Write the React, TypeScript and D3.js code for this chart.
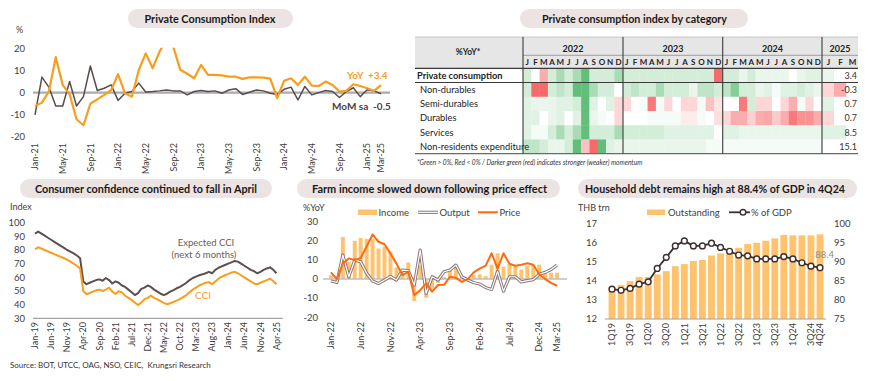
import React from "react";
import * as d3 from "d3";

const FONT = "Lato, 'Open Sans', sans-serif";
const TXT = "#404040";

// ---------- Panel 1: Private Consumption Index ----------
const pciLabels = ["Jan-21","May-21","Sep-21","Jan-22","May-22","Sep-22","Jan-23","May-23","Sep-23","Jan-24","May-24","Sep-24","Jan-25","Mar-25"];
const pciLabelIdx = [0,4,8,12,16,20,24,28,32,36,40,44,48,50];
const pciTicks = [20,10,0,-10,-20];
const pciYoY = [-6,-4.5,0.5,16,3.5,-0.7,-12,-14.7,-5,-3,-1,1.2,8.3,-0.3,-1.8,10.2,17.7,11,18.5,24,20.5,10.3,8.5,6.5,12.5,8,8,7.8,7.2,7.2,6.2,6.9,6.9,6.8,6.3,-2.5,5.4,6.5,3.5,7.2,3.2,3.0,5.0,3.5,0.5,0.8,3.8,3.0,2.0,0.8,3.4];
const pciMoM = [-10,7,2.5,-6,-6,5,-6,-1.8,12,1,2,3.5,-3.5,-0.3,0.5,4.3,0.3,0.5,0.8,1.2,0.8,0.8,-1.0,0.5,1.0,0.5,0.8,-0.3,1.2,1.8,-0.8,0.2,1.2,0.8,-0.3,-0.8,1.5,2.5,-3.3,2.8,-1.0,0.0,1.0,0.5,-2.2,0.5,2.2,-1.8,1.3,0.8,-0.5];

// ---------- Panel 2: heatmap ----------
const heatRowNames = ["Private consumption","Non-durables","Semi-durables","Durables","Services","Non-residents expenditure"];
const heatYears = ["2022","2023","2024","2025"];
const monthLetters = ["J","F","M","A","M","J","J","A","S","O","N","D"];
const monthLetters2025 = ["J","F","M"];
const heatPC = [2,0,-2,2,3,2,3,4,2,2,2,3, 2,2,2,2,2,2,2,2,2,2,2,-4, 2,2,1,2,1,1,1,1,0,1,1.5,1.5, 1,0];
const heatND = [2,-4,-4,2,2.5,2,4,4,3,2,2,0, 2,2.5,2,2,3,2,2,2,1,2.5,2.5,2, 2.5,3.5,2,2,1,1.5,0.5,1.5,1.5,2,1.5,1, -1,-2];
const heatSD = [1.5,1,1,1,1.5,1.5,2,4,1.5,0,1.5,-1, -1,0,0.5,-3.5,0.5,-1,0,-1,-1,0.5,-1.5,-0.7, 0,0,-3.5,2,-1,-1,0,-1,-2,0.5,-1,0, 1.5,0];
const heatDU = [1.5,1.5,0,1,1.5,0,1.5,4,1,0.5,0,-1, 0,0,0,0.5,0.5,0.5,0.5,-0.5,-0.5,0.5,0,-0.8, -1,-2,-2,-1.2,-2,-2.2,-1.3,-2,-3.5,-2.8,-2.8,-2, -1,0];
const heatSV = [1.5,0.5,0.5,2,3,2,3,4,2,2,2,3, 2,2,2,2,2,1.5,1.5,1.5,1.5,1.5,1.5,0, 1.5,1.5,1,1,1,1,1,1,1,1,1,1, 1.5,1.5];
const heatNR = [2.5,2.5,2,1,1,2,4,-1.5,-4,4,1.5,1, 1,1,1,1,1,1,1,1,1,1,0.5,0.5, 0.5,0.5,0.5,0.5,0.5,0.5,0.5,0.5,0.5,0.5,0.5,0.5, 0,0];
const heatLatest = ["3.4","-0.3","0.7","0.7","8.5","15.1"];

// ---------- Panel 3: consumer confidence ----------
const cciLabels = ["Jan-19","Jun-19","Nov-19","Apr-20","Sep-20","Feb-21","Jul-21","Dec-21","May-22","Oct-22","Mar-23","Aug-23","Jan-24","Jun-24","Nov-24","Apr-25"];
const cciTicks = [100,90,80,70,60,50,40,30];
const cciExpected = [92,93.5,92,90.5,89,87.5,86,84.5,83,81.5,80,78.8,77.5,76,74,57,55,56,57,58,58.5,57.5,59.5,58,55.5,57,56,54,53,51,49,47,48.5,51.5,52.5,54,53,51,49.5,48,47,48,49.5,50.7,52,53,54.4,56,58,59.5,60.5,61.5,62.2,63,64,63,65.5,67,68,69,70,71,72,71.5,70,68.5,67,65.5,64.5,63,64,65.4,66.5,67.3,65.5,63];
const cciIndex = [80.7,82,81,80,79,78,77,76,75,74,73,71.5,70,68.5,66.5,50,47.6,48.5,49.5,50.5,51,50,51,52.4,49.5,47.8,49.8,49,46.5,45,43.5,41.5,39.7,41.5,44,45,46.6,45,43.8,42.5,41.3,40.3,41,42,43,44,45.5,47,49,51,52.5,54,55,56,56.5,55,57,59,60.5,61.5,62.5,63.5,64,63,61.5,60,58.5,57,55.5,55,56,57,58,59,57.2,55];

// ---------- Panel 4: farm income ----------
const farmLabels = ["Jan-22","Jun-22","Nov-22","Apr-23","Sep-23","Feb-24","Jul-24","Dec-24","Mar-25"];
const farmLabelIdx = [0,5,10,15,20,25,30,35,38];
const farmTicks = [30,20,10,0,-10,-20];
const farmIncome = [2,1,22,9,20,21.5,21,21,16,17,14.5,6,5,8.7,-11.5,7,-9.8,-5,-2,1,5,7,1,-1,2,2.5,1.5,7.5,13.5,6.5,8,7,5,7,7.5,7.5,3,3.3,3.3];
const farmOutput = [-1,-1.8,12.6,1.2,10,9,3,-1,-2.3,-0.5,1.4,-0.5,4.7,4.4,-3.1,15.2,-7.5,1.2,-0.5,3.8,4.7,7.3,1.2,-0.5,-1.9,-2.6,-4.4,-5.5,4,-6.3,1.2,1.2,-1.5,-0.8,-0.3,2.5,3.5,5,7.4];
const farmPrice = [3.5,0,8.2,10.8,9.9,11,17,23.4,19.5,18.2,13.4,8.2,2.1,3.8,-8.4,-5.8,-2.3,-6.6,-3.1,-3,1.2,0.7,-1.5,0,3.5,5.5,7,13.5,5.5,13.5,8,7,7.5,8.3,7.5,2.5,0,-2,-3.5];

// ---------- Panel 5: household debt ----------
const debtQuarters = ["1Q19","2Q19","3Q19","4Q19","1Q20","2Q20","3Q20","4Q20","1Q21","2Q21","3Q21","4Q21","1Q22","2Q22","3Q22","4Q22","1Q23","2Q23","3Q23","4Q23","1Q24","2Q24","3Q24","4Q24"];
const debtShownIdx = [0,2,4,6,8,10,12,14,16,18,20,22,23];
const debtLeftTicks = [17,16,15,14,13,12];
const debtRightTicks = [100,95,90,85,80,75];
const debtOutstanding = [13.65,13.77,13.98,14.2,14.2,14.33,14.5,14.76,14.87,15.03,15.08,15.32,15.43,15.52,15.72,15.92,15.98,16.09,16.21,16.39,16.37,16.37,16.37,16.42];
const debtGdp = [82.8,82.5,83,84.1,84.7,88.2,91.1,94.1,95.4,94.1,94.1,94.8,93.7,92.7,91.7,91.5,90.7,90.7,90.7,91.3,90.7,89.7,88.8,88.4];

function Pill({ x, y, w, h, cx, tl, text }: any) {
  return (
    <g>
      <rect x={x} y={y} width={w} height={h} rx={h / 2} fill="#EBE4E2" />
      <text x={cx} y={y + h / 2 + 4} textAnchor="middle" fontSize={11.5} fontWeight={700} fill="#1A1A1A" textLength={tl} lengthAdjust="spacingAndGlyphs">{text}</text>
    </g>
  );
}

function RotLabel({ x, y, text, size = 9 }: any) {
  return <text transform={`translate(${x},${y}) rotate(-90)`} textAnchor="end" dy="0.35em" fontSize={size} fill={TXT}>{text}</text>;
}

function PciPanel() {
  const x = d3.scaleLinear().domain([0, pciYoY.length - 1]).range([35, 381]);
  const y = d3.scaleLinear().domain([-20, 20]).range([137, 48.3]);
  const line = d3.line<number>().x((_, i) => x(i)).y((d) => y(d));
  return (
    <g>
      <defs>
        <clipPath id="pciClip"><rect x={0} y={y(20) - 0.6} width={420} height={160} /></clipPath>
      </defs>
      <Pill x={128} y={9} w={165} h={19} cx={210} tl={131} text="Private Consumption Index" />
      <text x={16} y={33} fontSize={9} fill={TXT}>%</text>
      {pciTicks.map((t) => (
        <text key={t} x={25} y={y(t) + 3.2} textAnchor="end" fontSize={9.5} fill={TXT}>{t}</text>
      ))}
      <line x1={33} x2={390} y1={y(0)} y2={y(0)} stroke="#ABABAB" strokeWidth={2.2} />
      <path d={line(pciMoM) || ""} fill="none" stroke="#5B4B4B" strokeWidth={1.5} strokeLinejoin="round" />
      <path d={line(pciYoY) || ""} fill="none" stroke="#F99D1C" strokeWidth={2.2} strokeLinejoin="round" clipPath="url(#pciClip)" />
      {pciLabelIdx.map((idx, k) => (
        <RotLabel key={k} x={x(idx)} y={143} text={pciLabels[k]} />
      ))}
      <text x={347} y={79} fontSize={10} fontWeight={700} fill="#F99D1C" style={{ whiteSpace: "pre" }}>{"YoY  +3.4"}</text>
      <text x={332} y={110} fontSize={10} fontWeight={700} fill="#4D4040" style={{ whiteSpace: "pre" }}>{"MoM sa  -0.5"}</text>
    </g>
  );
}

const heatColor = d3
  .scaleLinear<string>()
  .domain([-4, -3, -2, -1, 0, 1, 2, 3, 4])
  .range(["#F8696B", "#F98B8C", "#FBADAE", "#FDD7D7", "#FFFFFF", "#EAF6EC", "#D3EDD9", "#A9DCB5", "#63BE7B"])
  .clamp(true);

function HeatPanel() {
  const rows = [heatPC, heatND, heatSD, heatDU, heatSV, heatNR];
  const xm = d3.scaleBand<number>().domain(d3.range(36)).range([523, 822]);
  const x25 = d3.scaleBand<number>().domain([0, 1, 2]).range([822, 858]);
  const yr = d3.scaleBand<number>().domain(d3.range(6)).range([68.3, 153.7]);
  const colX = (j: number) => (j < 36 ? (xm(j) as number) : (x25(j - 36) as number));
  const colW = (j: number) => (j < 36 ? xm.bandwidth() : x25.bandwidth());
  const yearCenters = [573, 673, 772.5, 840];
  const dark = "#3A3A3A";
  return (
    <g>
      <Pill x={520} y={9} w={228} h={19} cx={634.5} tl={185} text="Private consumption index by category" />
      <rect x={415} y={37} width={443} height={31.3} fill="#E7E6E6" />
      {rows.map((vals, r) =>
        vals.map((v, j) => (
          <rect key={`${r}-${j}`} x={colX(j)} y={yr(r)} width={colW(j) + 0.3} height={yr.bandwidth() + 0.3} fill={heatColor(v)} />
        ))
      )}
      <text x={468} y={55} textAnchor="middle" fontSize={8.5} fontWeight={700} fill="#222">%YoY*</text>
      {heatYears.map((yv, k) => (
        <text key={yv} x={yearCenters[k]} y={52} textAnchor="middle" fontSize={9} fontWeight={700} fill="#222">{yv}</text>
      ))}
      {d3.range(36).map((j) => (
        <text key={j} x={(xm(j) as number) + xm.bandwidth() / 2} y={65.2} textAnchor="middle" fontSize={8} fontWeight={700} fill="#222">{monthLetters[j % 12]}</text>
      ))}
      {monthLetters2025.map((m, j) => (
        <text key={"m" + j} x={(x25(j) as number) + x25.bandwidth() / 2 + 0.5} y={65.2} textAnchor="middle" fontSize={8} fontWeight={700} fill="#222">{m}</text>
      ))}
      {heatRowNames.map((n, r) => (
        <text key={n} x={r === 0 ? 417 : 420} y={(yr(r) as number) + yr.bandwidth() / 2 + 3.3} fontSize={9.3} fontWeight={r === 0 ? 700 : 400} fill="#222">{n}</text>
      ))}
      {heatLatest.map((v, r) => (
        <text key={r} x={857} y={(yr(r) as number) + yr.bandwidth() / 2 + 3.2} textAnchor="end" fontSize={9} fill="#333">{v}</text>
      ))}
      <line x1={415} x2={858} y1={37} y2={37} stroke="#BDBDBD" strokeWidth={0.8} />
      <line x1={523} x2={858} y1={55.3} y2={55.3} stroke="#8A8A8A" strokeWidth={0.8} />
      <line x1={415} x2={858} y1={68.3} y2={68.3} stroke={dark} strokeWidth={1.2} />
      <line x1={415} x2={858} y1={82.5} y2={82.5} stroke={dark} strokeWidth={1.2} />
      <line x1={415} x2={858} y1={153.7} y2={153.7} stroke="#6A6A6A" strokeWidth={1.2} />
      {[523, 623, 722.7, 822].map((vx) => (
        <line key={vx} x1={vx} x2={vx} y1={37} y2={153.7} stroke={dark} strokeWidth={1.1} />
      ))}
      <text x={417} y={165} fontSize={6.6} fontStyle="italic" fill="#333">*Green &gt; 0%, Red &lt; 0% / Darker green (red) indicates stronger (weaker) momentum</text>
    </g>
  );
}

function CciPanel() {
  const x = d3.scaleLinear().domain([0, cciIndex.length - 1]).range([35, 276.5]);
  const y = d3.scaleLinear().domain([30, 100]).range([318.3, 222.7]);
  const line = d3.line<number>().x((_, i) => x(i)).y((d) => y(d));
  return (
    <g>
      <Pill x={20} y={179} w={252} h={19} cx={146} tl={222} text="Consumer confidence continued to fall in April" />
      <text x={10} y={210} fontSize={9} fill={TXT}>Index</text>
      {cciTicks.map((t) => (
        <text key={t} x={25} y={y(t) + 3.2} textAnchor="end" fontSize={9.5} fill={TXT}>{t}</text>
      ))}
      <line x1={33} x2={283} y1={y(30)} y2={y(30)} stroke="#8C8C8C" strokeWidth={1} />
      <path d={line(cciExpected) || ""} fill="none" stroke="#5E4E4E" strokeWidth={2} strokeLinejoin="round" />
      <path d={line(cciIndex) || ""} fill="none" stroke="#F99D1C" strokeWidth={2} strokeLinejoin="round" />
      {cciLabels.map((l, k) => (
        <RotLabel key={l} x={x(k * 5)} y={322} text={l} />
      ))}
      <text x={206} y={246} textAnchor="middle" fontSize={9.5} fill="#6B5B5B">Expected CCI</text>
      <text x={204} y={257.5} textAnchor="middle" fontSize={9.5} fill="#6B5B5B">(next 6 months)</text>
      <text x={203} y={299} textAnchor="middle" fontSize={10} fill="#F99D1C">CCI</text>
    </g>
  );
}

function FarmPanel() {
  const xb = d3.scaleBand<number>().domain(d3.range(farmIncome.length)).range([327, 561]).padding(0.33);
  const xc = (i: number) => (xb(i) as number) + xb.bandwidth() / 2;
  const y = d3.scaleLinear().domain([-20, 30]).range([317.3, 221.7]);
  const line = d3.line<number>().x((_, i) => xc(i)).y((d) => y(d));
  return (
    <g>
      <Pill x={297} y={179} w={263} h={19} cx={429.5} tl={235} text="Farm income slowed down following price effect" />
      <text x={303} y={211} fontSize={9} fill={TXT}>%YoY</text>
      <rect x={358} y={209.5} width={19} height={5.5} fill="#FFC36E" />
      <text x={378.5} y={215.5} fontSize={9.5} fill={TXT}>Income</text>
      <line x1={418} x2={438} y1={212.3} y2={212.3} stroke="#8E7676" strokeWidth={3.2} />
      <line x1={418} x2={438} y1={212.3} y2={212.3} stroke="#fff" strokeWidth={1.2} />
      <text x={439.5} y={215.5} fontSize={9.5} fill={TXT}>Output</text>
      <line x1={478} x2={498} y1={212.3} y2={212.3} stroke="#FF6A10" strokeWidth={2} />
      <text x={499.5} y={215.5} fontSize={9.5} fill={TXT}>Price</text>
      {farmTicks.map((t) => (
        <text key={t} x={318} y={y(t) + 3.2} textAnchor="end" fontSize={9.5} fill={TXT}>{t}</text>
      ))}
      {farmIncome.map((v, i) => (
        <rect key={i} x={xb(i)} y={y(Math.max(0, v))} width={xb.bandwidth()} height={Math.abs(y(v) - y(0))} fill="#FFC36E" />
      ))}
      <line x1={323} x2={567} y1={y(0)} y2={y(0)} stroke="#BFBFBF" strokeWidth={1.4} />
      <path d={line(farmOutput) || ""} fill="none" stroke="#8E7676" strokeWidth={3.2} strokeLinejoin="round" />
      <path d={line(farmOutput) || ""} fill="none" stroke="#fff" strokeWidth={1.2} strokeLinejoin="round" />
      <path d={line(farmPrice) || ""} fill="none" stroke="#FF6A10" strokeWidth={2} strokeLinejoin="round" />
      {farmLabelIdx.map((idx, k) => (
        <RotLabel key={k} x={xc(idx)} y={322} text={farmLabels[k]} />
      ))}
    </g>
  );
}

function DebtPanel() {
  const xb = d3.scaleBand<number>().domain(d3.range(debtQuarters.length)).range([606.4, 825.6]).padding(0.24);
  const xc = (i: number) => (xb(i) as number) + xb.bandwidth() / 2;
  const yl = d3.scaleLinear().domain([12, 17]).range([319, 223.3]);
  const yr = d3.scaleLinear().domain([75, 100]).range([319, 223.3]);
  const line = d3.line<number>().x((_, i) => xc(i)).y((d) => yr(d));
  const lineCol = "#3B2F2F";
  return (
    <g>
      <Pill x={578} y={179} w={279} h={19} cx={715} tl={260} text="Household debt remains high at 88.4% of GDP in 4Q24" />
      <text x={578} y={211} fontSize={9} fill={TXT}>THB trn</text>
      <rect x={647} y={209.5} width={18} height={5.5} fill="#FFC36E" />
      <text x={668} y={215.5} fontSize={9.5} fill={TXT}>Outstanding</text>
      <line x1={729} x2={750} y1={212.3} y2={212.3} stroke={lineCol} strokeWidth={1.8} />
      <circle cx={743} cy={212.3} r={2.8} fill="#fff" stroke={lineCol} strokeWidth={1.4} />
      <text x={751} y={215.5} fontSize={9.5} fill={TXT}>% of GDP</text>
      {debtLeftTicks.map((t) => (
        <text key={t} x={597} y={yl(t) + 3.2} textAnchor="end" fontSize={9.5} fill={TXT}>{t}</text>
      ))}
      {debtRightTicks.map((t) => (
        <text key={t} x={834} y={yr(t) + 3.2} fontSize={9.5} fill={TXT}>{t}</text>
      ))}
      {debtOutstanding.map((v, i) => (
        <rect key={i} x={xb(i)} y={yl(v)} width={xb.bandwidth()} height={yl(12) - yl(v)} fill="#FFC36E" />
      ))}
      <line x1={605} x2={826} y1={yl(12)} y2={yl(12)} stroke="#A0A0A0" strokeWidth={1} />
      <path d={line(debtGdp) || ""} fill="none" stroke={lineCol} strokeWidth={1.8} strokeLinejoin="round" />
      {debtGdp.map((v, i) => (
        <circle key={i} cx={xc(i)} cy={yr(v)} r={2.9} fill="#fff" stroke={lineCol} strokeWidth={1.4} />
      ))}
      <text x={834} y={258} textAnchor="end" fontSize={9.5} fill="#8C8C8C">88.4</text>
      {debtShownIdx.map((idx) => (
        <RotLabel key={idx} x={xc(idx)} y={323} text={debtQuarters[idx]} />
      ))}
    </g>
  );
}

export default function App() {
  return (
    <svg width={870} height={381} viewBox="0 0 870 381" style={{ position: "absolute", left: 0, top: 0, fontFamily: FONT }}>
      <rect width={870} height={381} fill="#fff" />
      <PciPanel />
      <HeatPanel />
      <CciPanel />
      <FarmPanel />
      <DebtPanel />
      <text x={10} y={368} fontSize={8} fill="#333" style={{ whiteSpace: "pre" }}>{"Source: BOT, UTCC, OAG, NSO, CEIC,  Krungsri Research"}</text>
    </svg>
  );
}
